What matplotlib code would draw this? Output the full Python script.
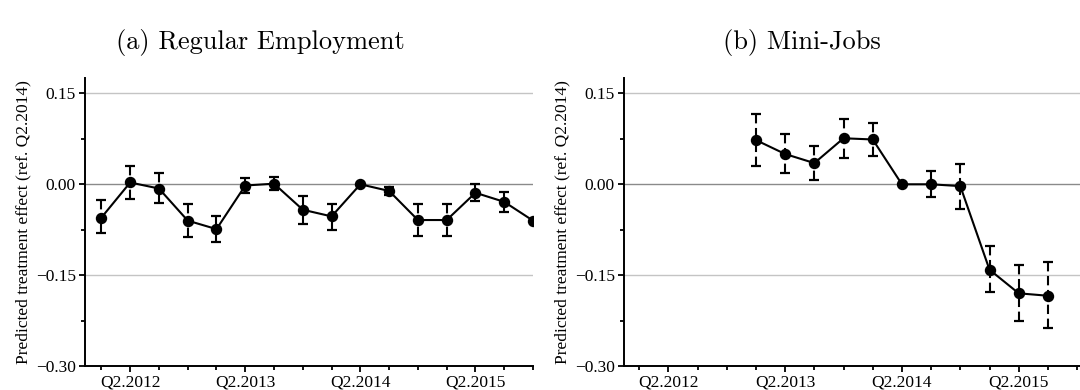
import numpy as np
import matplotlib
matplotlib.use("Agg")
import matplotlib.pyplot as plt

nan = np.nan

# quarters Q1.2012 ... Q4.2015
quarters = ["Q%d.%d" % (q, y) for y in range(2012, 2016) for q in range(1, 5)]
tick_labels = ["Q2.2012", "Q2.2013", "Q2.2014", "Q2.2015"]

# (a) Regular Employment
est_reg = [-0.055, 0.003, -0.007, -0.060, -0.074, -0.002, 0.001, -0.042,
           -0.053, 0.000, -0.011, -0.059, -0.059, -0.014, -0.029, -0.060]
lo_reg = [-0.081, -0.024, -0.031, -0.087, -0.096, -0.014, -0.010, -0.065,
          -0.075, nan, -0.017, -0.085, -0.085, -0.027, -0.046, nan]
hi_reg = [-0.026, 0.030, 0.018, -0.033, -0.052, 0.011, 0.012, -0.020,
          -0.032, nan, -0.005, -0.032, -0.033, 0.000, -0.012, nan]

# (b) Mini-Jobs
est_mini = [nan, nan, nan, nan, 0.073, 0.050, 0.035, 0.076,
            0.074, 0.000, 0.000, -0.003, -0.141, -0.180, -0.184, nan]
lo_mini = [nan, nan, nan, nan, 0.031, 0.018, 0.007, 0.044,
           0.047, nan, -0.021, -0.041, -0.178, -0.225, -0.237, nan]
hi_mini = [nan, nan, nan, nan, 0.116, 0.083, 0.063, 0.108,
           0.101, nan, 0.022, 0.034, -0.102, -0.133, -0.129, nan]

plt.rcParams['font.family'] = ['Liberation Serif', 'DejaVu Serif']
plt.rcParams['axes.unicode_minus'] = True

W, H = 1080, 390
fig = plt.figure(figsize=(W / 100, H / 100), dpi=100)


def px_axes(x0, x1, ytop, ybot):
    return fig.add_axes([x0 / W, 1 - ybot / H, (x1 - x0) / W, (ybot - ytop) / H])


def draw_panel(ax, est, lo, hi, xlim, title, title_x):
    x = np.arange(len(quarters))
    est = np.array(est); lo = np.array(lo); hi = np.array(hi)

    for yv, col in ((0.15, '#c4c4c4'), (-0.15, '#c4c4c4'), (0.0, '#8a8a8a')):
        ax.axhline(yv, color=col, lw=1.0, zorder=1)

    # error bars: dashed, drawn from each cap toward the estimate
    for xi, e, l, h in zip(x, est, lo, hi):
        if np.isnan(l):
            continue
        for end in (h, l):
            ax.plot([xi, xi], [end, e], color='black', lw=1.5,
                    linestyle=(0, (4.5, 2.2)), zorder=2, solid_capstyle='butt')
        ax.plot([xi, xi], [l, h], linestyle='none', marker='_', markersize=6.5,
                markeredgewidth=1.6, color='black', zorder=2)

    ax.plot(x, est, color='black', lw=1.5, zorder=3)
    ax.plot(x, est, linestyle='none', marker='o', markersize=7.2,
            color='black', zorder=4)

    ax.set_xlim(*xlim)
    ax.set_ylim(-0.30, 0.175)
    ax.set_yticks([0.15, 0.0, -0.15, -0.30])
    ax.set_yticklabels(["0.15", "0.00", "\u22120.15", "\u22120.30"])
    ax.set_yticks([0.075, -0.075, -0.225], minor=True)
    ax.set_xticks([quarters.index(t) for t in tick_labels])
    ax.set_xticklabels(tick_labels)
    ax.set_xticks(x, minor=True)

    ax.tick_params(axis='both', which='major', labelsize=12.5, width=1.3,
                   length=4.5, direction='out', color='black')
    ax.tick_params(axis='x', which='major', pad=2, length=4)
    ax.tick_params(axis='y', which='major', pad=2)
    ax.tick_params(axis='both', which='minor', width=1.3, length=3)

    for s in ('top', 'right'):
        ax.spines[s].set_visible(False)
    for s in ('left', 'bottom'):
        ax.spines[s].set_linewidth(1.4)

    ax.set_ylabel("Predicted treatment effect (ref. Q2.2014)", fontsize=12.5,
                  labelpad=3)
    fig.text(title_x / W, 1 - 43 / H, title, family='cmr10', fontsize=19,
             ha='center', va='center')


ax1 = px_axes(85, 533, 78.3, 366)
draw_panel(ax1, est_reg, lo_reg, hi_reg, (-0.57, 14.79),
           "(a) Regular Employment", 260)

ax2 = px_axes(624, 1080, 78.3, 366)
draw_panel(ax2, est_mini, lo_mini, hi_mini, (-0.52, 15.1),
           "(b) Mini-Jobs", 802)

fig.savefig("out.png", dpi=100)
